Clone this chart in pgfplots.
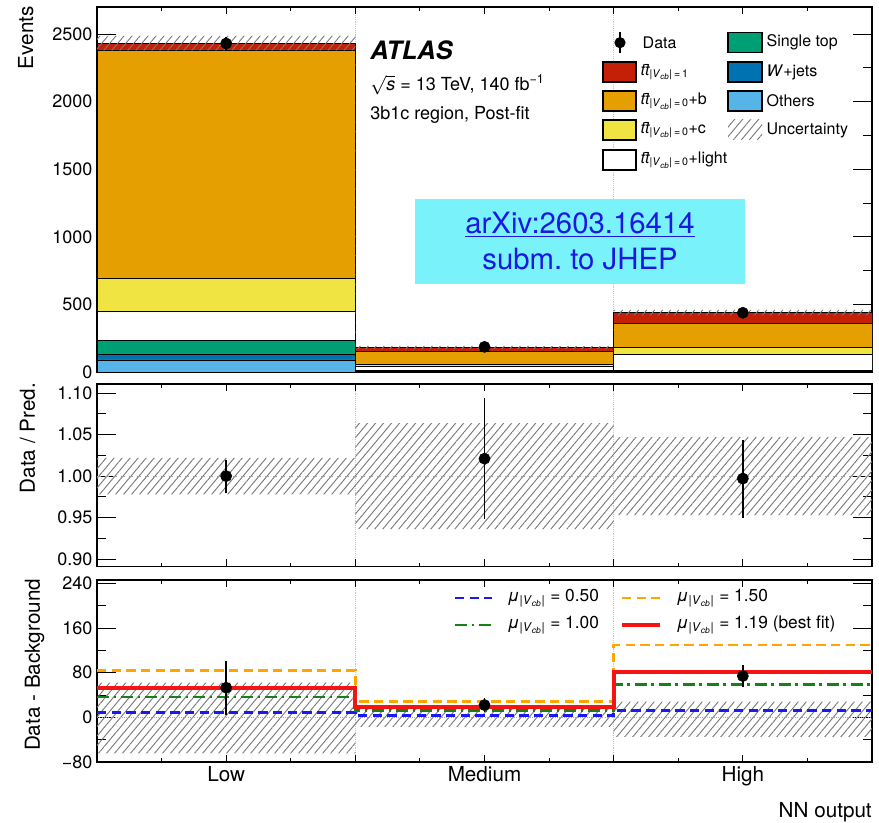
\documentclass[border=0pt]{standalone}
\usepackage{fontspec}
\setmainfont{TeX Gyre Heros}
\usepackage{pgfplots}
\pgfplotsset{compat=1.18}
\usetikzlibrary{patterns.meta}

% sample colours
\definecolor{cVcb}{RGB}{196,32,8}
\definecolor{cB}{RGB}{230,159,0}
\definecolor{cC}{RGB}{240,228,66}
\definecolor{cST}{RGB}{0,158,115}
\definecolor{cWJ}{RGB}{0,114,178}
\definecolor{cOth}{RGB}{86,180,233}
\definecolor{muBlue}{RGB}{25,25,245}
\definecolor{muGreen}{RGB}{20,130,20}
\definecolor{muOrange}{RGB}{255,165,0}
\definecolor{muRed}{RGB}{245,20,20}
\definecolor{cyanbox}{RGB}{122,242,250}
\definecolor{linkblue}{RGB}{25,25,225}

\newcommand\tickfont{\fontsize{13.5}{16}\selectfont}
\newcommand\labfont{\fontsize{15.5}{18}\selectfont}
\newcommand\legfont{\fontsize{12}{14}\selectfont}
\newcommand\ttbar{\textit{t\=t}}
\newcommand\vcb{|\textit{V}\textsubscript{\textit{cb}}|}
\newcommand\muv{\textit{μ}\textsubscript{\vcb}}

\pgfplotsset{
  panel/.style={
    scale only axis, width=581.25pt,
    xmin=0, xmax=3,
    xtick={0.5,1.5,2.5},
    minor xtick={0.25,0.75,1,1.25,1.75,2,2.25,2.75},
    tick align=inside, tick pos=both,
    axis line style={line width=0.9pt},
    xtick style={line width=0.7pt, black, /pgfplots/major tick length=5.5pt, /pgfplots/minor tick length=3pt},
    ytick style={line width=0.7pt, black, /pgfplots/major tick length=14pt, /pgfplots/minor tick length=7pt},
    yticklabel style={font=\tickfont},
    xticklabel style={font=\labfont},
    extra x ticks={1,2}, extra x tick labels={},
    extra x tick style={grid=major, major grid style={gray!45, densely dotted, line width=0.6pt}, /pgfplots/major tick length=0pt},
  },
  hatch/.style={draw=none, pattern={Lines[angle=50,distance=4.6pt,line width=0.7pt]}, pattern color=black!52},
  datapts/.style={only marks, mark=*, mark size=4.2pt, black,
    error bars/.cd, y dir=both, y explicit, error mark=none,
    error bar style={line width=1.1pt, black}},
  comp/.style={fill=#1, draw=black, line width=0.5pt},
}

\begin{document}
\begin{tikzpicture}[x=0.75pt,y=0.75pt]
\useasboundingbox (0,0) rectangle (879,823);

% ---------------- main panel: stacked prediction ----------------
\begin{axis}[panel, at={(72.75pt,338.25pt)}, anchor=south west, height=273.75pt,
  ymin=0, ymax=2700, ybar stacked, bar width=1,
  xticklabels={},
  ytick={0,500,1000,1500,2000,2500}, yticklabels={0,500,1000,1500,2000,2500},
  minor ytick={250,750,1250,1750,2250}]
  % bins: Low, Medium, High
  \addplot[comp=cOth] coordinates {(0.5,89) (1.5,3) (2.5,5)};
  \addplot[comp=cWJ]  coordinates {(0.5,42) (1.5,2) (2.5,2)};
  \addplot[comp=cST]  coordinates {(0.5,103) (1.5,5) (2.5,6)};
  \addplot[comp=white] coordinates {(0.5,217) (1.5,35) (2.5,118)};
  \addplot[comp=cC]   coordinates {(0.5,244) (1.5,10) (2.5,49)};
  \addplot[comp=cB]   coordinates {(0.5,1681) (1.5,100) (2.5,180)};
  \addplot[comp=cVcb] coordinates {(0.5,57) (1.5,27) (2.5,79)};
\end{axis}
\begin{axis}[panel, at={(72.75pt,338.25pt)}, anchor=south west, height=273.75pt,
  ymin=0, ymax=2700, hide axis]
  % total uncertainty band
  \addplot[hatch] coordinates {(0,2379) (1,2379) (1,170) (2,170) (2,418) (3,418)
    (3,460) (2,460) (2,194) (1,194) (1,2487) (0,2487)} -- cycle;
  \addplot[datapts] coordinates {(0.5,2430) +- (0,49) (1.5,186) +- (0,14) (2.5,438) +- (0,21)};
\end{axis}

% ---------------- ratio panel ----------------
\begin{axis}[panel, at={(72.75pt,192.2pt)}, anchor=south west, height=137pt,
  ymin=0.8907, ymax=1.111, xticklabels={},
  ytick={0.9,0.95,1,1.05,1.1}, yticklabels={0.90,0.95,1.00,1.05,1.10},
  minor ytick={0.925,0.975,1.025,1.075}]
  \addplot[hatch] coordinates {(0,0.978) (1,0.978) (1,0.936) (2,0.936) (2,0.953) (3,0.953)
    (3,1.047) (2,1.047) (2,1.064) (1,1.064) (1,1.022) (0,1.022)} -- cycle;
  \addplot[gray!75, dashed, line width=0.8pt] coordinates {(0,1) (3,1)};
  \addplot[datapts] coordinates {(0.5,1.000) +- (0,0.020) (1.5,1.021) +- (0,0.073) (2.5,0.997) +- (0,0.047)};
\end{axis}

% ---------------- data minus background panel ----------------
\begin{axis}[panel, at={(72.75pt,45.75pt)}, anchor=south west, height=136.5pt,
  ymin=-80, ymax=246, xticklabels={Low,Medium,High},
  ytick={-80,0,80,160,240}, yticklabels={−80,0,80,160,240},
  minor ytick={-40,40,120,200}]
  \addplot[hatch] coordinates {(0,-64.5) (1,-64.5) (1,-17) (2,-17) (2,-35) (3,-35)
    (3,28) (2,28) (2,20) (1,20) (1,62) (0,62)} -- cycle;
  \addplot[gray!70, densely dotted, line width=0.7pt] coordinates {(0,0) (3,0)};
  \addplot[const plot, muBlue, line width=2.2pt, dash pattern=on 7pt off 4pt]
    coordinates {(0,8.2) (1,3) (2,13) (3,13)};
  \addplot[const plot, muGreen, line width=2.2pt, dash pattern=on 9pt off 3.5pt on 2pt off 3.5pt]
    coordinates {(0,36.4) (1,13) (2,58) (3,58)};
  \addplot[const plot, muOrange, line width=2.2pt, dash pattern=on 7pt off 4pt]
    coordinates {(0,84.7) (1,29) (2,129.5) (3,129.5)};
  \addplot[const plot, muRed, line width=2.8pt]
    coordinates {(0,52) (1,19) (2,80.6) (3,80.6)};
  \addplot[datapts] coordinates {(0.5,53) +- (0,48) (1.5,22) +- (0,13) (2.5,74) +- (0,20)};
\end{axis}

% ---------------- axis titles ----------------
\node[rotate=90, anchor=base east, font=\labfont, inner sep=0pt] at (33,817) {Events};
\node[rotate=90, anchor=base east, font=\labfont, inner sep=0pt] at (35,440) {Data / Pred.};
\node[rotate=90, anchor=base, font=\labfont, inner sep=0pt] at (40,158) {Data - Background};
\node[anchor=base east, font=\labfont, inner sep=0pt] at (872,5) {NN output};

% ---------------- labels in the main panel ----------------
\node[anchor=base west, inner sep=0pt, font=\fontsize{19}{22}\selectfont\bfseries\itshape] at (370,763) {ATLAS};
\node[anchor=base west, inner sep=0pt, font=\tickfont] at (370,732.3)
  {$\sqrt{\mbox{\itshape s}}$ = 13 TeV, 140 fb\textsuperscript{−1}};
\node[anchor=base west, inner sep=0pt, font=\tickfont] at (370,703) {3b1c region, Post-fit};

% legend of the main panel
\begin{scope}[font=\legfont]
  \draw[line width=1.1pt] (620,770) -- (620,790.5);
  \fill (620,780.3) circle (4.2pt);
  \node[anchor=west] at (638,780.3) {Data};
  \draw[fill=cVcb, line width=0.8pt] (603,741) rectangle (636,761);
  \node[anchor=west] at (636,751) {\ttbar\textsubscript{\vcb\,=\,1}};
  \draw[fill=cB, line width=0.8pt] (603,712) rectangle (636,732);
  \node[anchor=west] at (636,722) {\ttbar\textsubscript{\vcb\,=\,0}+b};
  \draw[fill=cC, line width=0.8pt] (603,683) rectangle (636,703);
  \node[anchor=west] at (636,693) {\ttbar\textsubscript{\vcb\,=\,0}+c};
  \draw[fill=white, line width=0.8pt] (603,653) rectangle (636,673);
  \node[anchor=west] at (636,663) {\ttbar\textsubscript{\vcb\,=\,0}+light};
  \draw[fill=cST, line width=0.8pt] (728,770.3) rectangle (762,790.3);
  \node[anchor=west] at (762,780.3) {Single top};
  \draw[fill=cWJ, line width=0.8pt] (728,741) rectangle (762,761);
  \node[anchor=west] at (762,751) {\textit{W}+jets};
  \draw[fill=cOth, line width=0.8pt] (728,712) rectangle (762,732);
  \node[anchor=west] at (762,722) {Others};
  \fill[pattern={Lines[angle=50,distance=4.6pt,line width=0.7pt]}, pattern color=black!52] (728,683) rectangle (762,703);
  \node[anchor=west] at (762,693) {Uncertainty};
\end{scope}

% legend of the lower panel
\begin{scope}[font=\fontsize{13}{15}\selectfont]
  \draw[muBlue, line width=2.2pt, dash pattern=on 7pt off 4pt] (455,225) -- (492,225);
  \node[anchor=west] at (503,225) {\muv\ = 0.50};
  \draw[muOrange, line width=2.2pt, dash pattern=on 7pt off 4pt] (622,225) -- (660,225);
  \node[anchor=west] at (672,225) {\muv\ = 1.50};
  \draw[muGreen, line width=2.2pt, dash pattern=on 9pt off 3.5pt on 2pt off 3.5pt] (455,198) -- (492,198);
  \node[anchor=west] at (503,198) {\muv\ = 1.00};
  \draw[muRed, line width=2.8pt] (622,198) -- (660,198);
  \node[anchor=west] at (672,198) {\muv\ = 1.19 (best fit)};
\end{scope}

% reference box
\node[fill=cyanbox, minimum width=247.5pt, minimum height=63.75pt, inner sep=0pt,
  align=center, text=linkblue, font=\fontsize{22}{27}\selectfont] at (580,581.5)
  {\underline{arXiv:2603.16414}\\subm.\ to JHEP};
\end{tikzpicture}
\end{document}
